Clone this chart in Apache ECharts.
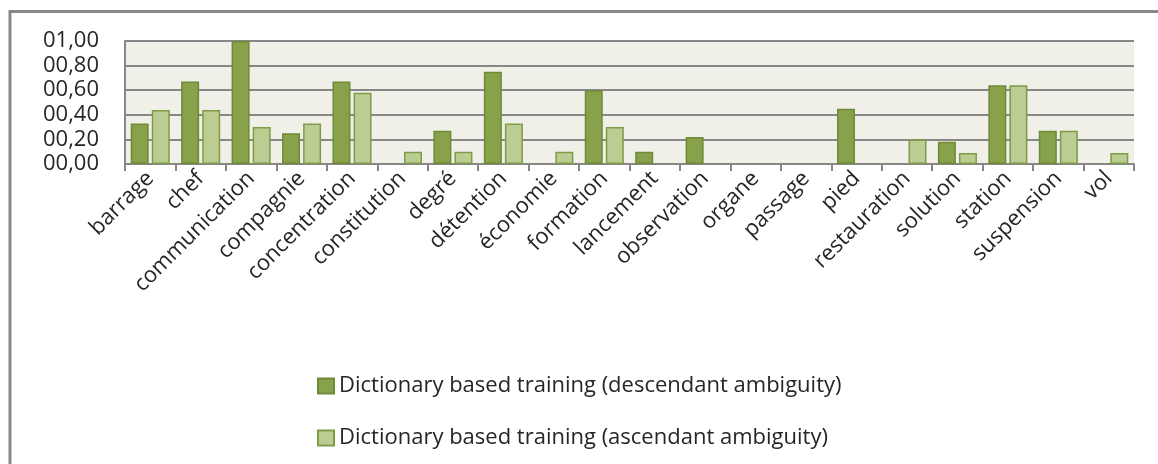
<!DOCTYPE html>
<html>
<head>
<meta charset="utf-8">
<script src="https://cdn.jsdelivr.net/npm/echarts@6/dist/echarts.min.js"></script>
<style>
html,body{margin:0;padding:0;background:#fff;}
#chart{width:1158px;height:464px;}
</style>
</head>
<body>
<div id="chart"></div>
<script>
const categories = ['barrage','chef','communication','compagnie','concentration','constitution','degré','détention','économie','formation','lancement','observation','organe','passage','pied','restauration','solution','station','suspension','vol'];
const descendant = [0.33,0.67,1.00,0.25,0.67,0,0.27,0.75,0,0.60,0.10,0.22,0,0,0.45,0,0.18,0.64,0.27,0];
const ascendant  = [0.44,0.44,0.30,0.33,0.58,0.10,0.10,0.33,0.10,0.30,0,0,0,0,0,0.20,0.09,0.64,0.27,0.09];
const seriesNames = ['Dictionary based training (descendant ambiguity)','Dictionary based training (ascendant ambiguity)'];
const yTickLabels = ['00,00','00,20','00,40','00,60','00,80','01,00'];

const font = 'Open Sans';
function toData(arr){
  return arr.map(function(v){ return v === 0 ? {value:0,itemStyle:{borderWidth:0}} : v; });
}
const chart = echarts.init(document.getElementById('chart'), null, {renderer:'canvas'});
chart.setOption({
  animation:false,
  backgroundColor:'#ffffff',
  graphic:[{
    type:'rect', silent:true, z:-1,
    shape:{x:10,y:11.5,width:1300,height:600},
    style:{fill:'none',stroke:'#878787',lineWidth:3}
  }],
  grid:{left:125,right:24,top:41,bottom:300,show:true,backgroundColor:'#F0F0E8',borderWidth:0},
  legend:{
    orient:'vertical', left:312, top:370, itemWidth:16, itemHeight:15, itemGap:30,
    icon:'rect',
    textStyle:{fontFamily:font,fontSize:22,color:'#262626'},
    data:seriesNames
  },
  xAxis:{
    type:'category', data:categories,
    axisLine:{show:true,lineStyle:{color:'#878787',width:2}},
    axisTick:{show:true,length:7,lineStyle:{color:'#878787',width:2}},
    axisLabel:{rotate:45,interval:0,margin:11,fontFamily:font,fontSize:22,color:'#262626'}
  },
  yAxis:{
    type:'value', min:0, max:1, interval:0.2,
    axisLine:{show:true,lineStyle:{color:'#878787',width:2}},
    axisTick:{show:false},
    splitLine:{show:true,lineStyle:{color:'#878787',width:2}},
    axisLabel:{margin:26,fontFamily:font,fontSize:22,color:'#262626',
      formatter:function(v){return yTickLabels[Math.round(v/0.2)];}}
  },
  series:[
    {name:seriesNames[0],type:'bar',data:toData(descendant),barWidth:18,barGap:'17%',
     itemStyle:{color:'#87A24A',borderColor:'#6F8A37',borderWidth:1.5}},
    {name:seriesNames[1],type:'bar',data:toData(ascendant),barWidth:18,barGap:'17%',
     itemStyle:{color:'#BCCD94',borderColor:'#7E9C45',borderWidth:1.5}}
  ]
});
</script>
</body>
</html>
